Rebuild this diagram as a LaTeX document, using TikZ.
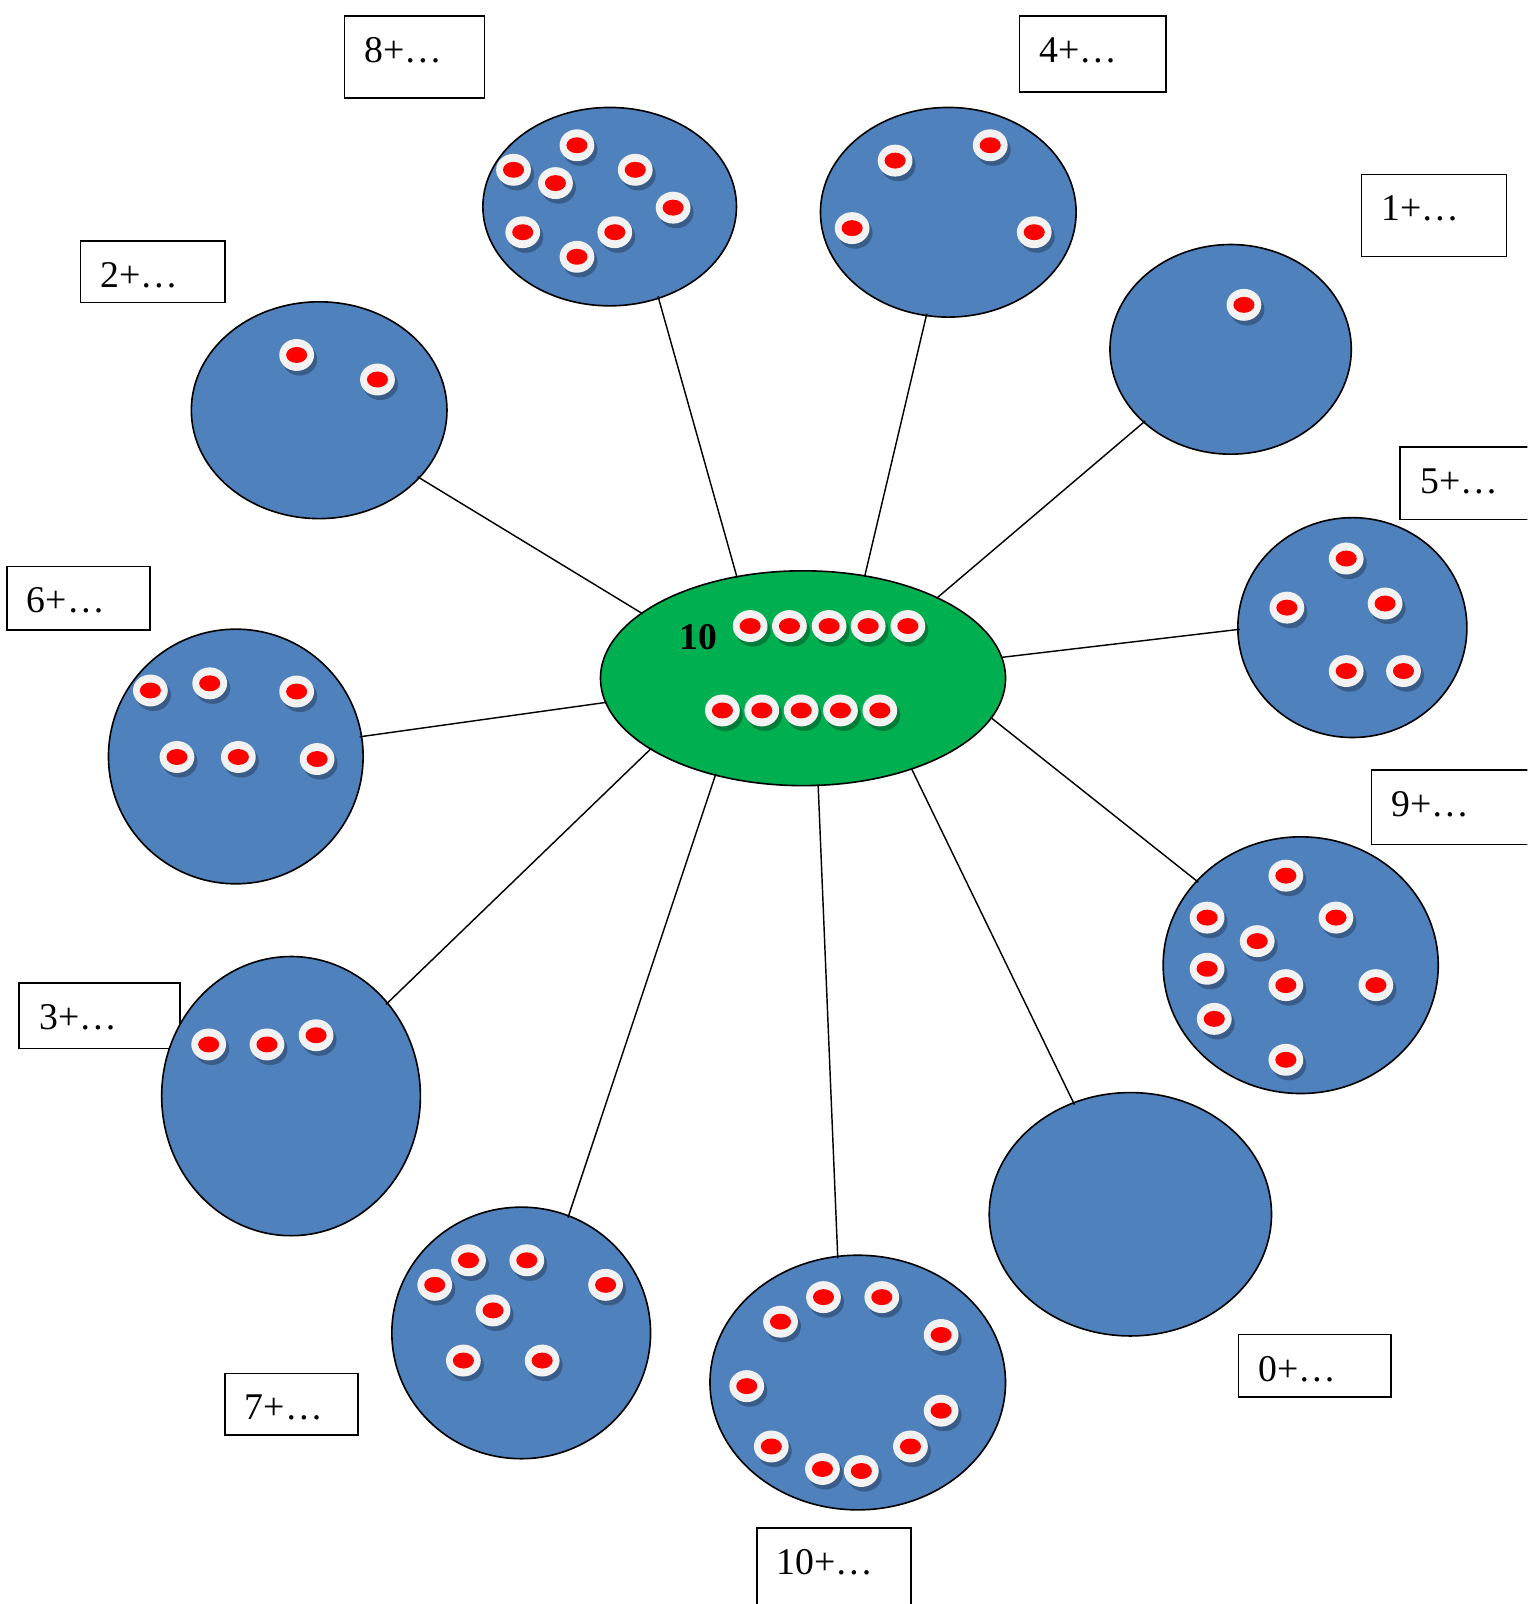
\documentclass[tikz,border=0pt]{standalone}
\usepackage{fontspec}
\setmainfont{Liberation Serif}
\usetikzlibrary{shapes.geometric}

\definecolor{hubgreen}{HTML}{00B050}
\definecolor{setblue}{HTML}{4F81BD}
\definecolor{ringgray}{HTML}{F2F2F2}
\definecolor{dotred}{HTML}{FF0000}

\tikzset{
  hub/.style={ellipse, draw=black, fill=hubgreen, line width=0.9pt, inner sep=0pt,
    minimum width=396*0.02cm, minimum height=210*0.02cm},
  setdisc/.style args={#1/#2}{ellipse, draw=black, fill=setblue, line width=0.9pt,
    inner sep=0pt, minimum width=#1*0.04cm, minimum height=#2*0.04cm},
  tagbox/.style args={#1/#2}{rectangle, draw=black, fill=white, line width=0.85pt,
    anchor=north west, inner sep=0pt, minimum width=#1*0.02cm, minimum height=#2*0.02cm},
  tagtext/.style={anchor=base west, inner sep=0pt, font=\fontsize{21}{25}\selectfont},
  link/.style={draw=black, line width=0.8pt, shorten <=-1pt, shorten >=-1.5pt},
  pics/counter/.style={code={
    \fill[black, opacity=0.28] (3,4.5) ellipse [x radius=17, y radius=15.6];
    \fill[ringgray] (0,0) ellipse [x radius=17, y radius=15.6];
    \fill[dotred] (0,0) ellipse [x radius=10.3, y radius=7.8];
  }}
}

\begin{document}
\begin{tikzpicture}[x=0.02cm, y=-0.02cm]
  % canvas
  \useasboundingbox (0,0) rectangle (1493,1568);
  \clip (0,0) rectangle (1493,1568);
  \fill[white] (0,0) rectangle (1493,1568);

  % label boxes
  \node[tagbox=137/80]  (b8)  at (336,15)   {};
  \node[tagbox=143/74]  (b4)  at (996,15)   {};
  \node[tagbox=142/80]  (b1)  at (1330,170) {};
  \node[tagbox=141/60]  (b2)  at (78,235)   {};
  \node[tagbox=150/71]  (b5)  at (1368,436) {};
  \node[tagbox=140/62]  (b6)  at (6,553)    {};
  \node[tagbox=160/73]  (b9)  at (1340,752) {};
  \node[tagbox=157/64]  (b3)  at (18,960)   {};
  \node[tagbox=149/61]  (b0)  at (1210,1304) {};
  \node[tagbox=130/60]  (b7)  at (219,1342) {};
  \node[tagbox=151/100] (b10) at (739,1493) {};

  \node[tagtext] (l8)  at ([shift={(20,46)}]b8.north west)  {8+…};
  \node[tagtext] (l4)  at ([shift={(20,46)}]b4.north west)  {4+…};
  \node[tagtext] (l1)  at ([shift={(20,46)}]b1.north west)  {1+…};
  \node[tagtext] (l2)  at ([shift={(20,46)}]b2.north west)  {2+…};
  \node[tagtext] (l5)  at ([shift={(20,46)}]b5.north west)  {5+…};
  \node[tagtext] (l6)  at ([shift={(20,46)}]b6.north west)  {6+…};
  \node[tagtext] (l9)  at ([shift={(20,46)}]b9.north west)  {9+…};
  \node[tagtext] (l3)  at ([shift={(20,46)}]b3.north west)  {3+…};
  \node[tagtext] (l0)  at ([shift={(20,46)}]b0.north west)  {0+…};
  \node[tagtext] (l7)  at ([shift={(20,46)}]b7.north west)  {7+…};
  \node[tagtext] (l10) at ([shift={(20,46)}]b10.north west) {10+…};

  % the sets
  \node[setdisc=124/97]      (s8)  at (596,202)     {};
  \node[setdisc=125/102.5]   (s4)  at (927,207.5)   {};
  \node[setdisc=118/102.5]   (s1)  at (1203,341.5)  {};
  \node[setdisc=125/106]     (s2)  at (312,401)     {};
  \node[setdisc=112/107.5]   (s5)  at (1322,613.5)  {};
  \node[setdisc=124.5/124.5] (s6)  at (230.5,739.5) {};
  \node[setdisc=134.5/125.5] (s9)  at (1271.5,943.5) {};
  \node[setdisc=126.5/136.5] (s3)  at (284.5,1071.5) {};
  \node[setdisc=138/119]     (s0)  at (1105,1187)   {};
  \node[setdisc=126.5/123]   (s7)  at (509.5,1303)  {};
  \node[setdisc=144.5/124.5] (s10) at (838.5,1351.5) {};

  % the whole: ten counters
  \node[hub] (h) at (785,663) {};
  \node[anchor=base west, inner sep=0pt, font=\bfseries\fontsize{21}{25}\selectfont] (num) at (664,635) {10};
  \foreach \cx in {733.3,771.7,810.5,848.7,887.5} \pic at (\cx,612) {counter};
  \foreach \cx in {706.2,744.7,783.2,821.6,860.1} \pic at (\cx,694.5) {counter};

  % counters in each set
  \foreach \p in {(564,142),(502,166),(543,179),(621,166),(658,203),(511,227),(601,227),(564,251)} \pic at \p {counter};
  \foreach \p in {(875,157),(968,142),(833,223),(1011,227)} \pic at \p {counter};
  \foreach \p in {(1216,298)} \pic at \p {counter};
  \foreach \p in {(290,347),(369,371)} \pic at \p {counter};
  \foreach \p in {(1316,546),(1258,594),(1354,590),(1316,656),(1372,656)} \pic at \p {counter};
  \foreach \p in {(147,675),(205,668),(290,676),(173,740),(233,740),(310,742)} \pic at \p {counter};
  \foreach \p in {(1257,856),(1180,897),(1306,897),(1229,920),(1180,947),(1257,963),(1345,963),(1187,996),(1257,1036)} \pic at \p {counter};
  \foreach \p in {(204,1021),(261,1021),(309,1012)} \pic at \p {counter};
  \foreach \p in {(458,1232),(515,1232),(425,1256),(592,1256),(482,1281),(453,1330),(530,1330)} \pic at \p {counter};
  \foreach \p in {(805,1268),(862,1268),(763,1292),(920,1305),(730,1355),(920,1379),(754,1414),(890,1414),(804,1436),(842,1438)} \pic at \p {counter};

  % connectors from the whole to each set
  \draw[link] (h.123) -- (s8.-62);
  \draw[link] (h.59)  -- (s4.258);
  \draw[link] (h.31)  -- (s1.220);
  \draw[link] (h.158) -- (s2.-34);
  \draw[link] (h.6)   -- (s5.181);
  \draw[link] (h.187) -- (s6.9);
  \draw[link] (h.-12) -- (s9.141);
  \draw[link] (h.205) -- (s3.44);
  \draw[link] (h.-40) -- (s0.117);
  \draw[link] (h.228) -- (s7.68);
  \draw[link] (h.278) -- (s10.99);
\end{tikzpicture}
\end{document}
